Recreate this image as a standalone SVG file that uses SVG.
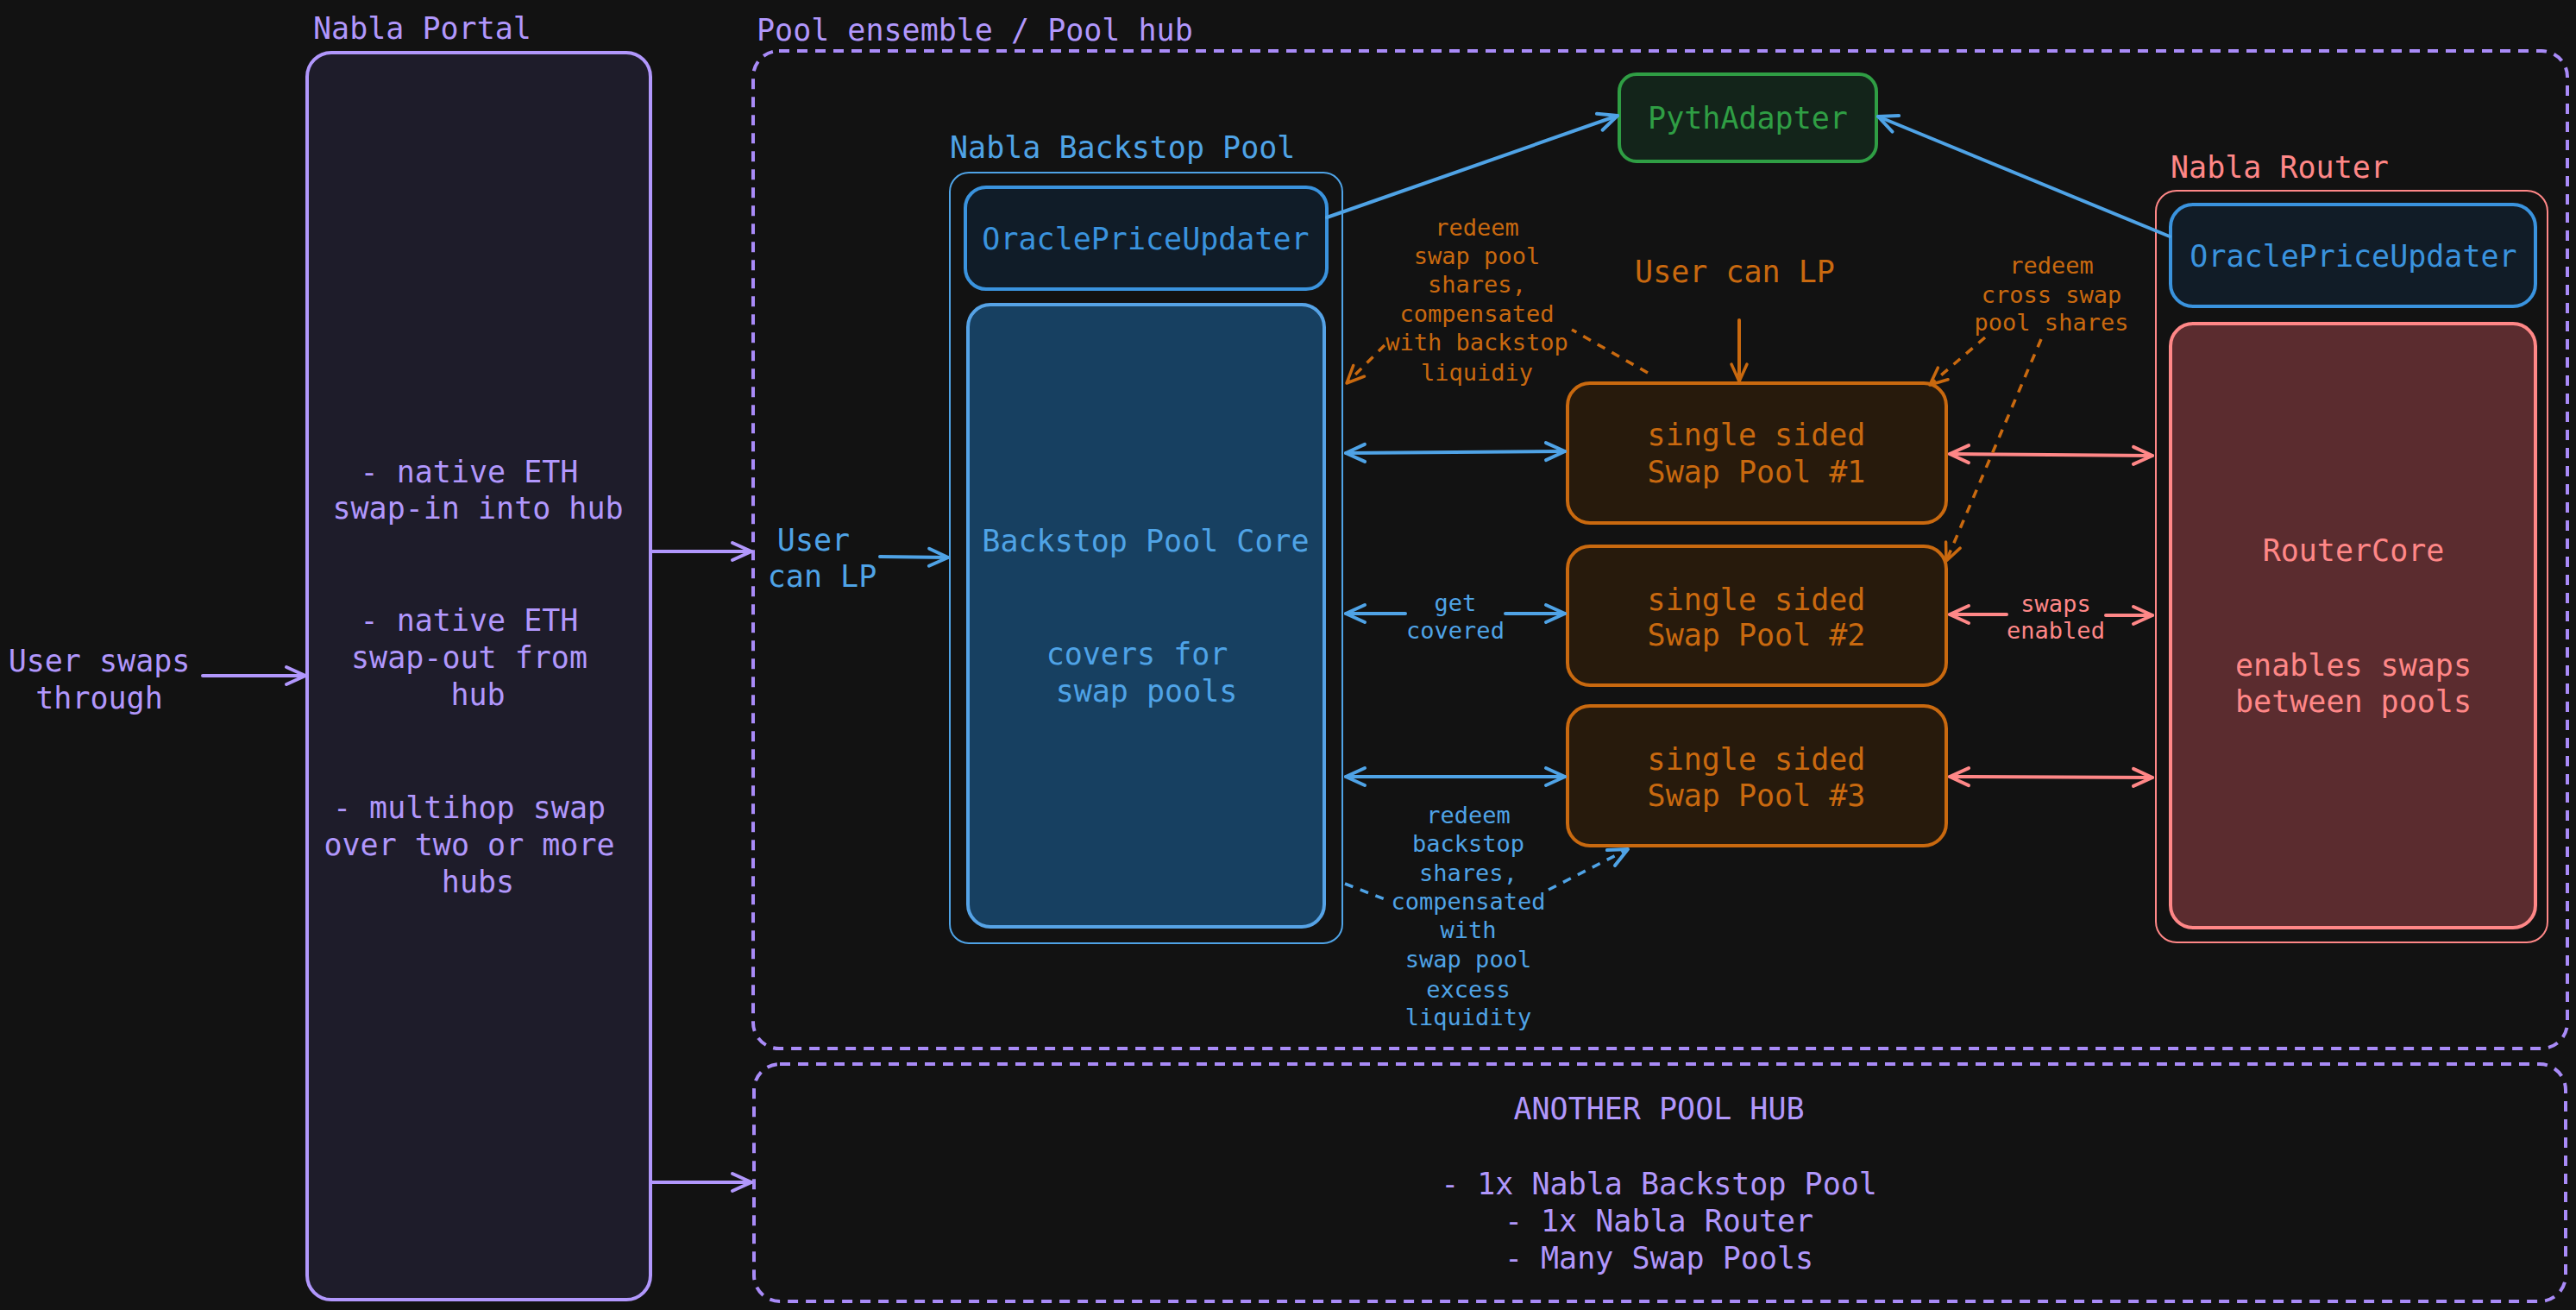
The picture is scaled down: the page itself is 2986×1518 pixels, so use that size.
<svg xmlns="http://www.w3.org/2000/svg" width="2986" height="1518" viewBox="0 0 2986 1518">
<style>
text{font-family:"DejaVu Sans Mono","Liberation Mono",monospace;}
.c{text-anchor:middle;dominant-baseline:central;}
.big{font-size:35px;}
.sm{font-size:27px;}
.pu{fill:#b197fc;}
.bl{fill:#4fa3e6;}
.bl2{fill:#3a93de;}
.gr{fill:#2f9e44;}
.rd{fill:#ff8787;}
.or{fill:#c9690f;}
.ln{fill:none;stroke-width:4;stroke-linecap:round;}
.dash{fill:none;stroke-width:3.5;stroke-dasharray:10 9;}
</style>
<defs>
<marker id="ahP" viewBox="-26 -14 30 28" refX="0" refY="0" markerWidth="30" markerHeight="28" markerUnits="userSpaceOnUse" orient="auto-start-reverse" overflow="visible"><path d="M-22,-10 L0,0 L-22,10" fill="none" stroke="#b197fc" stroke-width="4" stroke-linecap="round" stroke-linejoin="round"/></marker>
<marker id="ahB" viewBox="-26 -14 30 28" refX="0" refY="0" markerWidth="30" markerHeight="28" markerUnits="userSpaceOnUse" orient="auto-start-reverse" overflow="visible"><path d="M-22,-10 L0,0 L-22,10" fill="none" stroke="#4fa3e6" stroke-width="4" stroke-linecap="round" stroke-linejoin="round"/></marker>
<marker id="ahO" viewBox="-26 -14 30 28" refX="0" refY="0" markerWidth="30" markerHeight="28" markerUnits="userSpaceOnUse" orient="auto-start-reverse" overflow="visible"><path d="M-20,-9 L0,0 L-20,9" fill="none" stroke="#c9690f" stroke-width="3.5" stroke-linecap="round" stroke-linejoin="round"/></marker>
<marker id="ahR" viewBox="-26 -14 30 28" refX="0" refY="0" markerWidth="30" markerHeight="28" markerUnits="userSpaceOnUse" orient="auto-start-reverse" overflow="visible"><path d="M-22,-10 L0,0 L-22,10" fill="none" stroke="#ff8787" stroke-width="4" stroke-linecap="round" stroke-linejoin="round"/></marker>
</defs>
<rect x="0" y="0" width="2986" height="1518" fill="#121212"/>

<g id="pool-hub">
<rect x="873" y="59" width="2103" height="1156" rx="30" fill="none" stroke="#a98bf8" stroke-width="4" stroke-dasharray="12 9"/>
<text x="877" y="47" class="big pu">Pool ensemble / Pool hub</text>
</g>

<g id="another-pool-hub">
<rect x="874" y="1233" width="2100" height="275" rx="30" fill="none" stroke="#a98bf8" stroke-width="4" stroke-dasharray="12 9"/>
<text x="1923" y="1285" class="c big pu">ANOTHER POOL HUB</text>
<text x="1923" y="1372" class="c big pu">- 1x Nabla Backstop Pool</text>
<text x="1923" y="1415" class="c big pu">- 1x Nabla Router</text>
<text x="1923" y="1458" class="c big pu">- Many Swap Pools</text>
</g>

<g id="nabla-portal">
<text x="363" y="45" class="big pu">Nabla Portal</text>
<rect x="356" y="61" width="398" height="1445" rx="28" fill="#1e1c2a" stroke="#b197fc" stroke-width="4"/>
<text x="544" y="547" class="c big pu">- native ETH</text>
<text x="554" y="589" class="c big pu">swap-in into hub</text>
<text x="544" y="719" class="c big pu">- native ETH</text>
<text x="544" y="762" class="c big pu">swap-out from</text>
<text x="554" y="805" class="c big pu">hub</text>
<text x="544" y="936" class="c big pu">- multihop swap</text>
<text x="544" y="979" class="c big pu">over two or more</text>
<text x="554" y="1022" class="c big pu">hubs</text>
</g>

<g id="user-swaps">
<text x="115" y="766" class="c big pu">User swaps</text>
<text x="115" y="809" class="c big pu">through</text>
</g>

<g id="user-can-lp-backstop">
<text x="943" y="626" class="c big bl">User</text>
<text x="953" y="668" class="c big bl">can LP</text>
</g>

<g id="nabla-backstop-pool">
<text x="1101" y="183" class="big bl">Nabla Backstop Pool</text>
<rect x="1101" y="200" width="455" height="893" rx="22" fill="none" stroke="#4fa3e6" stroke-width="2"/>
</g>
<g id="backstop-oracle">
<rect x="1119" y="217" width="419" height="118" rx="24" fill="#101c28" stroke="#3a93de" stroke-width="4"/>
<text x="1328" y="277" class="c big bl2">OraclePriceUpdater</text>
</g>
<g id="backstop-core">
<rect x="1122" y="353" width="413" height="721" rx="26" fill="#174061" stroke="#56a3e6" stroke-width="4"/>
<text x="1328" y="627" class="c big bl">Backstop Pool Core</text>
<text x="1318" y="758" class="c big bl">covers for</text>
<text x="1329" y="801" class="c big bl">swap pools</text>
</g>

<g id="pyth-adapter">
<rect x="1877" y="86" width="298" height="101" rx="20" fill="#13241a" stroke="#2f9e44" stroke-width="4"/>
<text x="2026" y="137" class="c big gr">PythAdapter</text>
</g>

<g id="user-can-lp-pools">
<text x="2011" y="315" class="c big or">User can LP</text>
</g>

<g id="swap-pool-1">
<rect x="1817" y="444" width="439" height="162" rx="26" fill="#271a0c" stroke="#c9690f" stroke-width="4"/>
<text x="2036" y="504" class="c big or">single sided</text>
<text x="2036" y="547" class="c big or">Swap Pool #1</text>
</g>
<g id="swap-pool-2">
<rect x="1817" y="633" width="439" height="161" rx="26" fill="#271a0c" stroke="#c9690f" stroke-width="4"/>
<text x="2036" y="695" class="c big or">single sided</text>
<text x="2036" y="736" class="c big or">Swap Pool #2</text>
</g>
<g id="swap-pool-3">
<rect x="1817" y="818" width="439" height="162" rx="26" fill="#271a0c" stroke="#c9690f" stroke-width="4"/>
<text x="2036" y="880" class="c big or">single sided</text>
<text x="2036" y="922" class="c big or">Swap Pool #3</text>
</g>

<g id="nabla-router">
<text x="2516" y="206" class="big rd">Nabla Router</text>
<rect x="2499" y="221" width="454" height="871" rx="24" fill="none" stroke="#ff8787" stroke-width="2"/>
</g>
<g id="router-oracle">
<rect x="2516" y="237" width="423" height="118" rx="26" fill="#111c27" stroke="#3a93de" stroke-width="4"/>
<text x="2728" y="297" class="c big bl2">OraclePriceUpdater</text>
</g>
<g id="router-core">
<rect x="2516" y="375" width="423" height="700" rx="26" fill="#5b2c2f" stroke="#ff8787" stroke-width="4"/>
<text x="2728" y="638" class="c big rd">RouterCore</text>
<text x="2728" y="771" class="c big rd">enables swaps</text>
<text x="2728" y="813" class="c big rd">between pools</text>
</g>

<g id="connectors">
<path class="ln" stroke="#b197fc" d="M235,783 L354,783" marker-end="url(#ahP)"/>
<path class="ln" stroke="#b197fc" d="M754,639 L871,639" marker-end="url(#ahP)"/>
<path class="ln" stroke="#b197fc" d="M754,1370 L871,1370" marker-end="url(#ahP)"/>

<path class="ln" stroke="#4fa3e6" d="M1020,645 L1099,646" marker-end="url(#ahB)"/>
<path class="ln" stroke="#4fa3e6" d="M1538,252 L1875,134" marker-end="url(#ahB)"/>
<path class="ln" stroke="#4fa3e6" d="M2515,274 L2177,135" marker-end="url(#ahB)"/>
<path class="ln" stroke="#4fa3e6" d="M1560,525 L1814,523" marker-start="url(#ahB)" marker-end="url(#ahB)"/>
<path class="ln" stroke="#4fa3e6" d="M1560,711 L1629,711 M1745,711 L1814,711" marker-start="url(#ahB)" marker-end="url(#ahB)"/>
<text x="1687" y="698" class="c sm bl">get</text>
<text x="1687" y="730" class="c sm bl">covered</text>
<path class="ln" stroke="#4fa3e6" d="M1560,900 L1814,900" marker-start="url(#ahB)" marker-end="url(#ahB)"/>

<path class="ln" stroke="#ff8787" d="M2260,526 L2495,528" marker-start="url(#ahR)" marker-end="url(#ahR)"/>
<path class="ln" stroke="#ff8787" d="M2260,712 L2326,712 M2441,713 L2495,713" marker-start="url(#ahR)" marker-end="url(#ahR)"/>
<text x="2383" y="699" class="c sm rd">swaps</text>
<text x="2383" y="730" class="c sm rd">enabled</text>
<path class="ln" stroke="#ff8787" d="M2260,900 L2495,901" marker-start="url(#ahR)" marker-end="url(#ahR)"/>

<path class="ln" stroke="#c9690f" stroke-width="3" d="M2016,371 L2016,442" marker-end="url(#ahO)"/>

<path class="dash" stroke="#c9690f" d="M1910,432 L1822,382 M1605,400 L1561,444" marker-end="url(#ahO)"/>
<text x="1712" y="263" class="c sm or">redeem</text>
<text x="1712" y="296" class="c sm or">swap pool</text>
<text x="1712" y="329" class="c sm or">shares,</text>
<text x="1712" y="363" class="c sm or">compensated</text>
<text x="1712" y="396" class="c sm or">with backstop</text>
<text x="1712" y="431" class="c sm or">liquidiy</text>

<path class="dash" stroke="#c9690f" d="M2301,391 L2237,446" marker-end="url(#ahO)"/>
<path class="dash" stroke="#c9690f" d="M2366,393 L2256,650" marker-end="url(#ahO)"/>
<text x="2378" y="307" class="c sm or">redeem</text>
<text x="2378" y="341" class="c sm or">cross swap</text>
<text x="2378" y="373" class="c sm or">pool shares</text>

<path class="dash" stroke="#4fa3e6" d="M1559,1024 L1605,1042 M1795,1031 L1887,984" marker-end="url(#ahB)"/>
<text x="1702" y="944" class="c sm bl">redeem</text>
<text x="1702" y="977" class="c sm bl">backstop</text>
<text x="1702" y="1011" class="c sm bl">shares,</text>
<text x="1702" y="1044" class="c sm bl">compensated</text>
<text x="1702" y="1077" class="c sm bl">with</text>
<text x="1702" y="1111" class="c sm bl">swap pool</text>
<text x="1702" y="1146" class="c sm bl">excess</text>
<text x="1702" y="1178" class="c sm bl">liquidity</text>
</g>
</svg>
